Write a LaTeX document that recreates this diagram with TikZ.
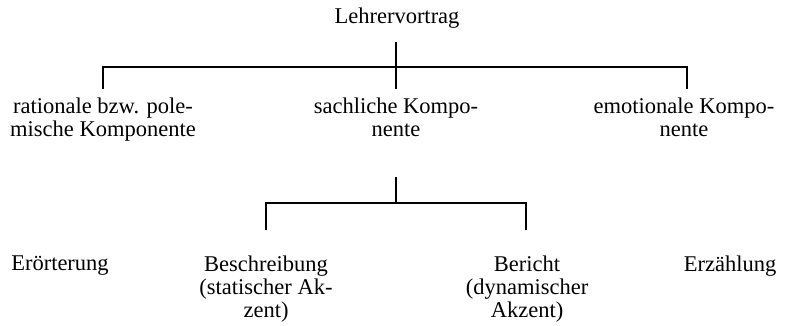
\documentclass[tikz,border=0pt]{standalone}
\usepackage{fontspec}
\setmainfont{Liberation Serif}
\begin{document}
\begin{tikzpicture}[x=1pt,y=-1pt,
  lbl/.style={inner sep=0pt,anchor=north,align=center,font=\fontsize{22.5}{23}\selectfont},
  ln/.style={line width=1.6pt},
  lnthin/.style={line width=1.1pt}]
\useasboundingbox (0,0) rectangle (786,326);
% texts
\node[lbl] (top) at (397,8) {Lehrervortrag};
\node[lbl] (rat) at (103,98) {rationale bzw. pole-\\mische Komponente};
\node[lbl] (sach) at (396,98) {sachliche Kompo-\\nente};
\node[lbl] (emo) at (684,98) {emotionale Kompo-\\nente};
\node[lbl] (eroe) at (60,256) {Erörterung};
\node[lbl] (besch) at (266,256) {Beschreibung\\(statischer Ak-\\zent)};
\node[lbl] (ber) at (527,256) {Bericht\\(dynamischer\\Akzent)};
\node[lbl] (erz) at (730,256) {Erzählung};
% upper bracket
\coordinate (t1) at (396,42);
\coordinate (t2) at (396,89);
\coordinate (hl) at (103,67);
\coordinate (hr) at (687,67);
\coordinate (ll) at (103,89);
\coordinate (rl) at (687,89);
\draw[ln] (t1) -- (t2);
\draw[ln] (ll) -- (hl) -- (hr) -- (rl);
% lower bracket
\coordinate (u1) at (396,177);
\coordinate (u2) at (396,203);
\coordinate (gl) at (266,203);
\coordinate (gr) at (526,203);
\coordinate (gll) at (266,230);
\coordinate (grl) at (526,230);
\draw[lnthin] (u1) -- (u2);
\draw[lnthin] (gll) -- (gl) -- (gr) -- (grl);
\end{tikzpicture}
\end{document}
